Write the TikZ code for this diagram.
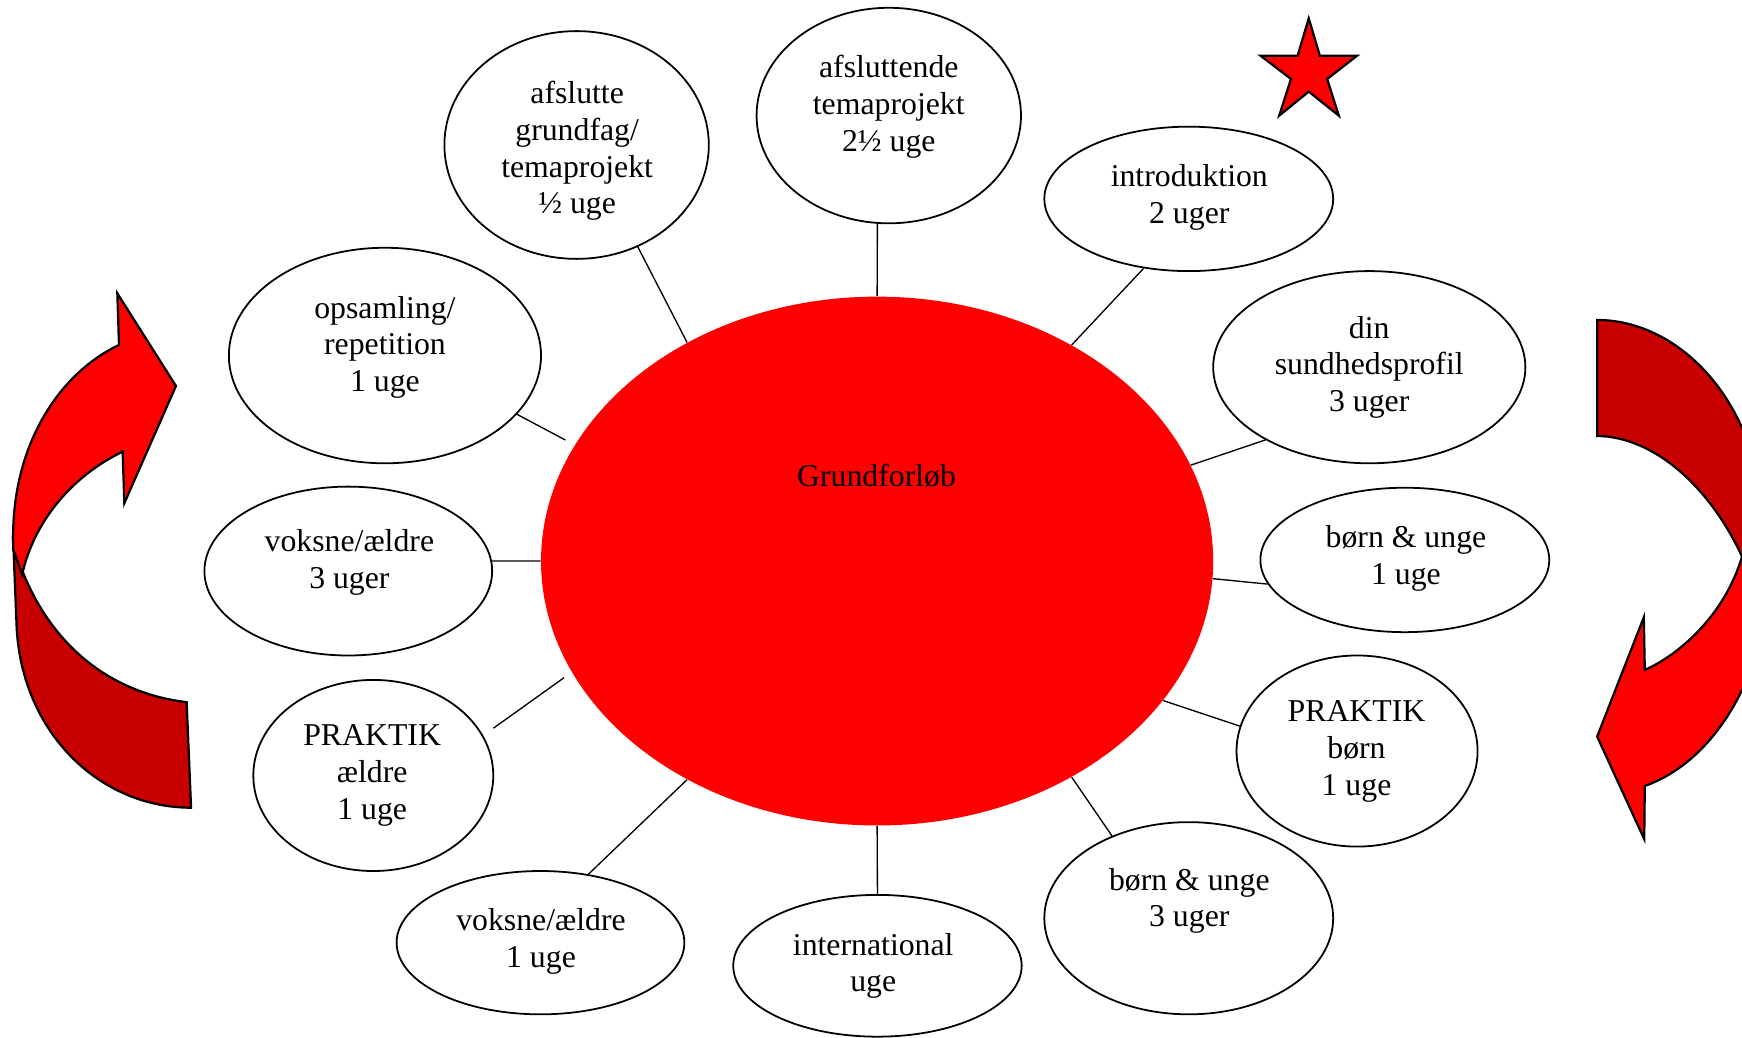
\documentclass[tikz,border=0pt]{standalone}
\usepackage{fontspec}
\setmainfont{Liberation Serif}
\usetikzlibrary{shapes.geometric}
\definecolor{arrred}{HTML}{FF0000}
\definecolor{arrdark}{HTML}{C80000}
\tikzset{
  bub/.style={ellipse, draw, line width=0.8pt, inner sep=0pt, fill=white},
  lbl/.style={align=center, font=\fontsize{14.3}{16.5}\selectfont, inner sep=0pt},
  conn/.style={line width=0.6pt},
  arrowshape/.style={line width=1pt, line join=miter},
}
\begin{document}
\begin{tikzpicture}[x=0.5pt,y=-0.5pt]
\useasboundingbox (0,0) rectangle (1568,934);
\clip (0,0) rectangle (1568,934);

% central ellipse
\node[ellipse, fill=red, minimum width=302.5pt, minimum height=238pt, inner sep=0pt] (c) at (789.5,505) {};
\node[lbl] (g) at (789,428) {Grundforløb};

% bubbles
\node[bub, minimum width=119pt, minimum height=102.5pt] (e1) at (519,130.5) {};
\node[bub, minimum width=119pt, minimum height=97pt] (e2) at (800,104) {};
\node[bub, minimum width=130pt, minimum height=65pt] (e3) at (1070,179) {};
\node[bub, minimum width=140.5pt, minimum height=86.5pt] (e4) at (1232.5,330.5) {};
\node[bub, minimum width=130pt, minimum height=65pt] (e5) at (1264.5,504) {};
\node[bub, minimum width=108.5pt, minimum height=86pt] (e6) at (1221.5,676) {};
\node[bub, minimum width=130pt, minimum height=86.5pt] (e7) at (1070,826.5) {};
\node[bub, minimum width=129.8pt, minimum height=63.8pt] (e8) at (789.8,869.3) {};
\node[bub, minimum width=129.5pt, minimum height=64.5pt] (e9) at (486.5,848.5) {};
\node[bub, minimum width=108pt, minimum height=86pt] (e10) at (336,698) {};
\node[bub, minimum width=129.5pt, minimum height=76pt] (e11) at (313.5,514) {};
\node[bub, minimum width=140.5pt, minimum height=97pt] (e12) at (346.5,320) {};

% labels
\node[lbl] (t1) at (519.5,136) {afslutte\\grundfag/\\temaprojekt\\½ uge};
\node[lbl] (t2) at (800,96) {afsluttende\\temaprojekt\\2½ uge};
\node[lbl] (t3) at (1070.5,177.5) {introduktion\\2 uger};
\node[lbl] (t4) at (1232.5,330.5) {din\\sundhedsprofil\\3 uger};
\node[lbl] (t5) at (1265.5,502.5) {børn \& unge\\1 uge};
\node[lbl] (t6) at (1221,676.5) {PRAKTIK\\børn\\1 uge};
\node[lbl] (t7) at (1070.5,811) {børn \& unge\\3 uger};
\node[lbl] (t8) at (786,869.5) {international\\uge};
\node[lbl] (t9) at (487,847.5) {voksne/ældre\\1 uge};
\node[lbl] (t10) at (335,698) {PRAKTIK\\ældre\\1 uge};
\node[lbl] (t11) at (314.5,506) {voksne/ældre\\3 uger};
\node[lbl] (t12) at (346.5,312.5) {opsamling/\\repetition\\1 uge};

% connectors
\draw[conn] (c.131.5) -- (e1.-59.5);
\draw[conn] (c.90) -- (e2.-96);
\draw[conn] (c.48.6) -- (e3.-123.1);
\draw[conn] (c.17.4) -- (e4.-145.7);
\draw[conn] (c.-3.9) -- (e5.-170.5);
\draw[conn] (c.-26.3) -- (e6.168.9);
\draw[conn] (c.-48.2) -- (e7.133);
\draw[conn] (c.270) -- (e8.90);
\draw[conn] (c.-131.8) -- (e9.55.6);
\draw[conn, shorten <=5.6pt, shorten >=4.2pt] (e10.20.3) -- (c.200.5);
\draw[conn] (c.180) -- (e11.4.4);
\draw[conn, shorten >=4.7pt] (e12.-24.4) -- (c.159);

% star
\draw[arrowshape, fill=red] (1178,16.5) -- (1188,50.1) -- (1221.6,50.1) -- (1194.6,71.1)
  -- (1205.1,104.1) -- (1178,82.5) -- (1151.4,104.1) -- (1162,71.1)
  -- (1134.6,50.1) -- (1168,50.1) -- cycle;

% left curved arrow
\draw[arrowshape, fill=arrdark] (12,490) -- (15,565) .. controls (20,660) and (90,727) .. (172,727)
  -- (168,632) .. controls (100,624) and (38,580) .. (12,490) -- cycle;
\draw[arrowshape, fill=arrred] (107.1,310.5) -- (105.6,264) -- (158.4,347.4) -- (111.9,453)
  -- (110.4,406.5) .. controls (62,430) and (30,472) .. (20,517)
  -- (12,495) .. controls (8,400) and (55,335) .. (107.1,310.5) -- cycle;

% right curved arrow
\draw[arrowshape, fill=arrdark] (1437.6,288) .. controls (1500,288) and (1560,340) .. (1580,420)
  -- (1600,501) -- (1568,501) .. controls (1540,440) and (1490,393) .. (1437.6,392.4) -- cycle;
\draw[arrowshape, fill=arrred] (1568,501) .. controls (1552,555) and (1510,590) .. (1480.5,603)
  -- (1479.6,555.6) -- (1437.6,663) -- (1480,755.4) -- (1480.5,707.4)
  .. controls (1530,690) and (1565,640) .. (1580,590) -- (1600,590) -- (1600,501) -- cycle;
\end{tikzpicture}
\end{document}
